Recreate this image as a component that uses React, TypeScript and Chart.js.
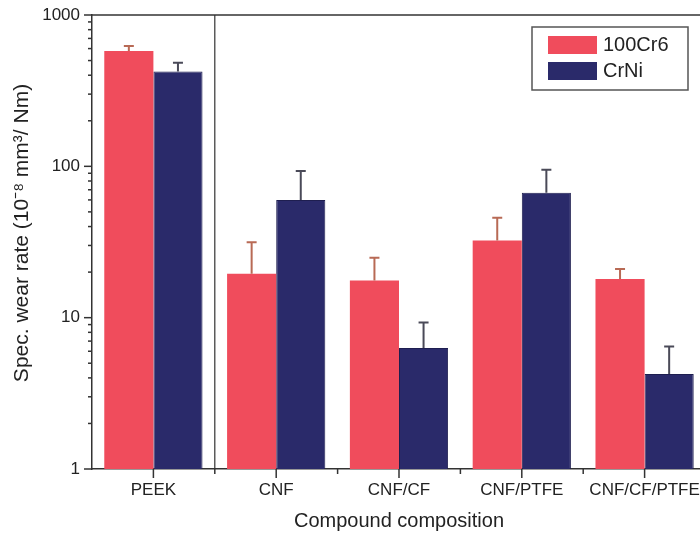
import React, { useEffect, useRef } from "react";
import { Chart, registerables } from "chart.js";

Chart.register(...registerables);

const categories = ["PEEK", "CNF", "CNF/CF", "CNF/PTFE", "CNF/CF/PTFE"];
const seriesNames = ["100Cr6", "CrNi"];
const wear100Cr6 = [578, 19.5, 17.6, 32.4, 18.0];
const wear100Cr6Upper = [623, 31.5, 24.9, 45.7, 21.0];
const wearCrNi = [424, 60, 6.3, 67, 4.24];
const wearCrNiUpper = [483, 93, 9.3, 95, 6.45];
const yTicks = [1, 10, 100, 1000];
const yTitle = "Spec. wear rate (10\u207B\u2078 mm\u00B3/ Nm)";

const RED = "#f04c5c";
const NAVY = "#2a2a6a";
const FONT = "'Liberation Sans', Arial, sans-serif";
const TEXT = "#222";

const decorPlugin = {
  id: "decor",
  afterDatasetsDraw(chart: any) {
    const ctx = chart.ctx;
    const { left, right, top, bottom } = chart.chartArea;
    const xs = chart.scales.x;
    const ys = chart.scales.y;
    ctx.save();

    // error bars
    const sets: [number[], number[], string][] = [
      [wear100Cr6, wear100Cr6Upper, "#b86a55"],
      [wearCrNi, wearCrNiUpper, "#4a4a58"],
    ];
    sets.forEach(([vals, ups, col], di) => {
      const meta = chart.getDatasetMeta(di);
      meta.data.forEach((bar: any, i: number) => {
        const bx = bar.x;
        const y0 = ys.getPixelForValue(vals[i]);
        const y1 = ys.getPixelForValue(ups[i]);
        ctx.strokeStyle = col;
        ctx.lineWidth = 2;
        ctx.beginPath();
        ctx.moveTo(bx, y0);
        ctx.lineTo(bx, y1);
        ctx.moveTo(bx - 5, y1);
        ctx.lineTo(bx + 5, y1);
        ctx.stroke();
      });
    });

    ctx.strokeStyle = "#333";
    ctx.lineWidth = 1.5;
    // top frame line
    ctx.beginPath();
    ctx.moveTo(left, top);
    ctx.lineTo(right, top);
    ctx.stroke();

    // separator between PEEK and the compounds
    const sepX = (xs.getPixelForValue(0) + xs.getPixelForValue(1)) / 2;
    ctx.lineWidth = 1.2;
    ctx.beginPath();
    ctx.moveTo(sepX, top);
    ctx.lineTo(sepX, bottom);
    ctx.stroke();

    // x tick marks
    ctx.lineWidth = 1.5;
    for (let i = 0; i < categories.length; i++) {
      const cx = xs.getPixelForValue(i);
      ctx.beginPath();
      ctx.moveTo(cx, bottom);
      ctx.lineTo(cx, bottom + 9);
      ctx.stroke();
      if (i > 0) {
        const bx = (xs.getPixelForValue(i - 1) + cx) / 2;
        ctx.beginPath();
        ctx.moveTo(bx, bottom);
        ctx.lineTo(bx, bottom + 5);
        ctx.stroke();
      }
    }

    // y tick marks (major + minor)
    for (const d of yTicks) {
      const py = ys.getPixelForValue(d);
      ctx.beginPath();
      ctx.moveTo(left - 8, py);
      ctx.lineTo(left, py);
      ctx.stroke();
      if (d < 1000) {
        for (let k = 2; k <= 9; k++) {
          const my = ys.getPixelForValue(d * k);
          ctx.beginPath();
          ctx.moveTo(left - 4, my);
          ctx.lineTo(left, my);
          ctx.stroke();
        }
      }
    }

    // y axis title
    ctx.save();
    ctx.translate(22, 233);
    ctx.rotate(-Math.PI / 2);
    ctx.font = `21px ${FONT}`;
    ctx.fillStyle = TEXT;
    ctx.textAlign = "center";
    ctx.textBaseline = "middle";
    ctx.fillText(yTitle, 0, 0);
    ctx.restore();

    // legend box
    ctx.strokeStyle = "#555";
    ctx.lineWidth = 1.5;
    ctx.strokeRect(532, 27, 156, 63);
    const cols = [RED, NAVY];
    const rowsY = [36, 62];
    ctx.font = `20px ${FONT}`;
    ctx.textBaseline = "middle";
    ctx.textAlign = "left";
    seriesNames.forEach((name, i) => {
      ctx.fillStyle = cols[i];
      ctx.fillRect(548, rowsY[i], 49, 18);
      ctx.fillStyle = TEXT;
      ctx.fillText(name, 603, rowsY[i] + 9);
    });

    ctx.restore();
  },
};

export default function App() {
  const ref = useRef<HTMLCanvasElement | null>(null);

  useEffect(() => {
    document.body.style.margin = "0";
    const canvas = ref.current;
    if (!canvas) return;
    const chart = new Chart(canvas, {
      type: "bar",
      data: {
        labels: categories,
        datasets: [
          {
            label: seriesNames[0],
            data: wear100Cr6,
            backgroundColor: RED,
            borderWidth: 0,
            categoryPercentage: 0.8,
            barPercentage: 1.0,
          },
          {
            label: seriesNames[1],
            data: wearCrNi,
            backgroundColor: NAVY,
            borderColor: "#1e1e50",
            borderWidth: 1,
            categoryPercentage: 0.8,
            barPercentage: 1.0,
          },
        ],
      },
      options: {
        animation: false,
        responsive: false,
        maintainAspectRatio: false,
        layout: { padding: { top: 15, right: 14, left: 0, bottom: 0 } },
        plugins: {
          legend: { display: false },
          tooltip: { enabled: false },
        },
        scales: {
          x: {
            type: "category",
            grid: { display: false, drawTicks: false },
            border: { display: true, color: "#333", width: 1.5 },
            ticks: {
              padding: 11,
              color: TEXT,
              font: { family: FONT, size: 17 },
              maxRotation: 0,
              autoSkip: false,
            },
            title: {
              display: true,
              text: "Compound composition",
              color: TEXT,
              font: { family: FONT, size: 20 },
              padding: { top: 0, bottom: 2 },
            },
            afterFit(scale: any) {
              scale.height = 66;
              scale.paddingLeft = 0;
              scale.paddingRight = 0;
            },
          },
          y: {
            type: "logarithmic",
            min: 1,
            max: 1000,
            grid: { display: false, drawTicks: false },
            border: { display: true, color: "#333", width: 1.5 },
            afterBuildTicks(scale: any) {
              scale.ticks = yTicks.map((v) => ({ value: v }));
            },
            ticks: {
              padding: 12,
              color: TEXT,
              font: { family: FONT, size: 17 },
              callback: (v: any) => String(v),
            },
            afterFit(scale: any) {
              scale.width = 92;
              scale.paddingTop = 0;
              scale.paddingBottom = 0;
            },
          },
        },
      },
      plugins: [decorPlugin],
    });
    return () => chart.destroy();
  }, []);

  return (
    <div
      style={{
        position: "fixed",
        left: 0,
        top: 0,
        width: 700,
        height: 535,
        overflow: "hidden",
        background: "#fff",
      }}
    >
      <canvas ref={ref} width={720} height={535} style={{ display: "block" }} />
    </div>
  );
}
